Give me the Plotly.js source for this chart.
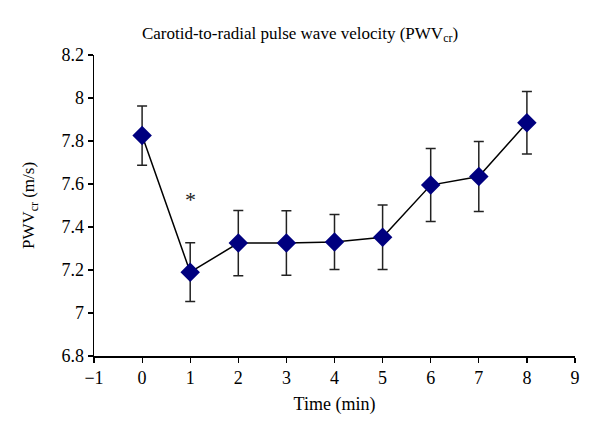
<!DOCTYPE html>
<html>
<head>
<meta charset="utf-8">
<script src="https://cdn.plot.ly/plotly-3.0.1.min.js"></script>
<style>html,body{margin:0;padding:0;background:#fff;}#chart{width:600px;height:435px;}</style>
</head>
<body>
<div id="chart"></div>
<script>
const timeMin = [0, 1, 2, 3, 4, 5, 6, 7, 8];
const pwvMean = [7.825, 7.19, 7.325, 7.325, 7.33, 7.352, 7.595, 7.635, 7.885];
const pwvErr = [0.138, 0.137, 0.152, 0.15, 0.128, 0.15, 0.17, 0.163, 0.145];
const xTicks = [-1, 0, 1, 2, 3, 4, 5, 6, 7, 8, 9];
const yTicks = [6.8, 7, 7.2, 7.4, 7.6, 7.8, 8, 8.2];
const sigX = [1];
const sigY = [7.53];

const font = "Liberation Serif, Times New Roman, serif";

const trace = {
  x: timeMin, y: pwvMean, type: 'scatter', mode: 'lines+markers',
  line: {color: '#000', width: 1.5},
  marker: {symbol: 'diamond', size: 15, color: '#00007f', line: {width: 0}},
  error_y: {type: 'data', array: pwvErr, visible: true, color: '#222', thickness: 1.5, width: 5},
  showlegend: false
};

const layout = {
  width: 600, height: 435,
  margin: {l: 94, r: 25, t: 55, b: 79},
  paper_bgcolor: '#fff', plot_bgcolor: '#fff',
  font: {family: font, color: '#000', size: 18},
  title: {text: 'Carotid-to-radial pulse wave velocity (PWV<sub>cr</sub>)', font: {family: font, size: 17, color: '#000'}, x: 0.5, xanchor: 'center', y: 0.925, yanchor: 'middle'},
  xaxis: {
    range: [-1, 9], tickvals: xTicks, ticktext: xTicks.map(v => v < 0 ? '\u2212' + Math.abs(v) : String(v)),
    showgrid: false, zeroline: false, showline: true, linecolor: '#000', linewidth: 1.5,
    ticks: 'outside', ticklen: 5, tickwidth: 1.2, tickcolor: '#000',
    tickfont: {family: font, size: 18},
    title: {text: 'Time (min)', font: {family: font, size: 18}, standoff: 10}
  },
  yaxis: {
    range: [6.8, 8.2], tickvals: yTicks, ticktext: yTicks.map(v => String(v)),
    showgrid: false, zeroline: false, showline: true, linecolor: '#000', linewidth: 1.5,
    ticks: 'outside', ticklen: 5, tickwidth: 1.2, tickcolor: '#000',
    tickfont: {family: font, size: 18},
    title: {text: 'PWV<sub>cr</sub> (m/s)', font: {family: font, size: 17}, standoff: 22}
  },
  annotations: sigX.map((x, i) => ({x: x, y: sigY[i], xref: 'x', yref: 'y', text: '*', showarrow: false, font: {family: font, size: 22, color: '#222'}}))
};

Plotly.newPlot('chart', [trace], layout, {displayModeBar: false, staticPlot: true});
</script>
</body>
</html>
